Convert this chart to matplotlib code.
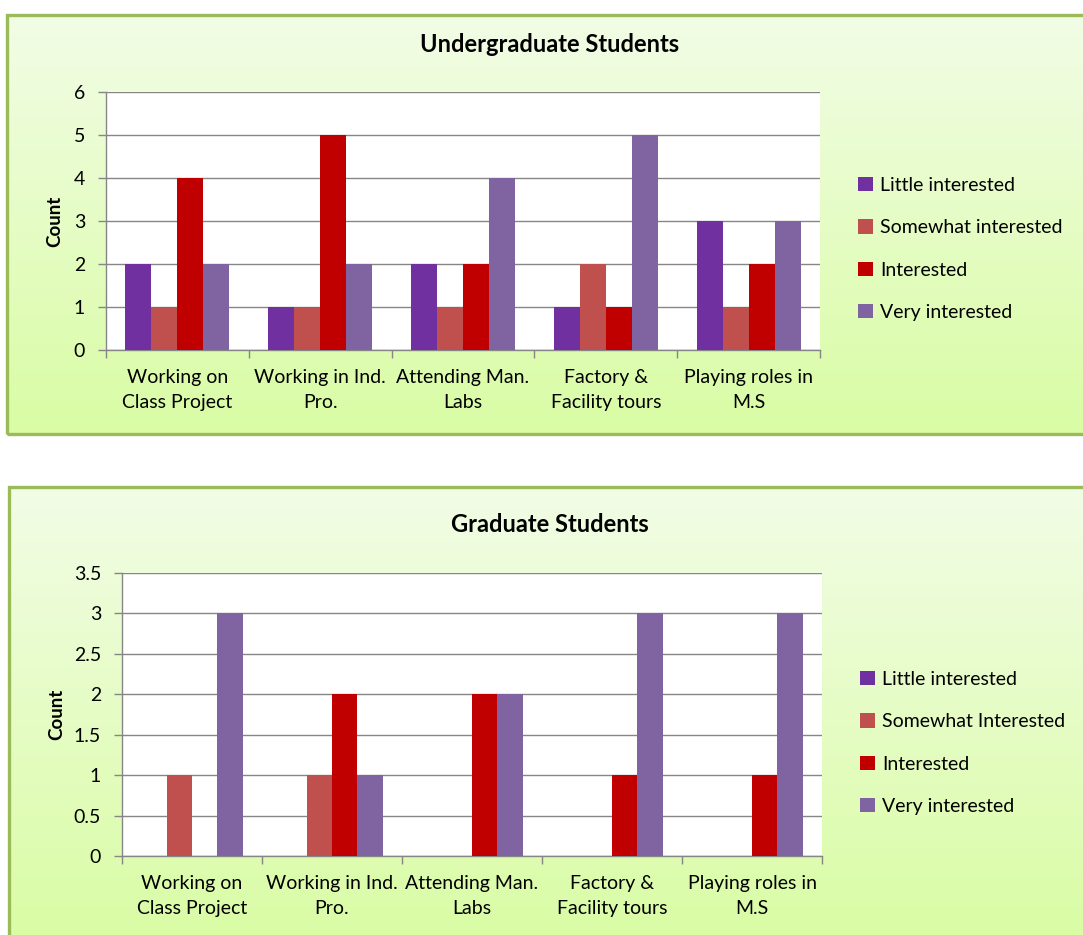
import numpy as np
import matplotlib
matplotlib.use("Agg")
import matplotlib.pyplot as plt
from matplotlib.patches import Rectangle, Patch

plt.rcParams['font.family'] = ['Lato', 'DejaVu Sans']

categories = ["Working on\nClass Project", "Working in Ind.\nPro.", "Attending Man.\nLabs",
              "Factory &\nFacility tours", "Playing roles in\nM.S"]
series_ug = ["Little interested", "Somewhat interested", "Interested", "Very interested"]
series_gr = ["Little interested", "Somewhat Interested", "Interested", "Very interested"]
colors = ["#7030A0", "#C0504D", "#C00000", "#8064A2"]

ug_little = [2, 1, 2, 1, 3]
ug_somewhat = [1, 1, 1, 2, 1]
ug_interested = [4, 5, 2, 1, 2]
ug_very = [2, 2, 4, 5, 3]

gr_little = [0, 0, 0, 0, 0]
gr_somewhat = [1, 1, 0, 0, 0]
gr_interested = [0, 2, 2, 1, 1]
gr_very = [3, 1, 2, 3, 3]

W, H = 1083, 935
fig = plt.figure(figsize=(W / 100, H / 100), dpi=100)
fig.patch.set_facecolor("white")

FS = 14


def fx(x):
    return x / W


def fy(y):
    return 1 - y / H


def panel(x0, y0, x1, y1):
    bg = fig.add_axes([fx(x0), fy(y1), fx(x1 - x0), (y1 - y0) / H], zorder=0)
    grad = np.linspace(0, 1, 256).reshape(-1, 1)
    top = np.array([0xF2, 0xFD, 0xE6]) / 255
    bot = np.array([0xD9, 0xFC, 0xA4]) / 255
    img = top[None, None, :] * (1 - grad[:, :, None]) + bot[None, None, :] * grad[:, :, None]
    bg.imshow(img, aspect="auto", extent=[0, 1, 0, 1], origin="upper")
    bg.set_axis_off()
    fig.patches.append(Rectangle((fx(x0), fy(y1)), fx(x1 - x0), (y1 - y0) / H,
                                 transform=fig.transFigure, fill=False,
                                 edgecolor="#9BBB59", linewidth=2.4, zorder=5))


def chart(box, values, labels, ymax, ystep, yfmt, title, title_y, ylab_x, leg_pos):
    x0, y0, x1, y1 = box
    ax = fig.add_axes([fx(x0), fy(y1), fx(x1 - x0), (y1 - y0) / H], zorder=2)
    ax.set_facecolor("white")
    x = np.arange(len(categories))
    bw = 0.182
    handles = []
    for i, (vals, lab, c) in enumerate(zip(values, labels, colors)):
        ax.bar(x + (i - 1.5) * bw, vals, width=bw, color=c, zorder=3)
        handles.append(Patch(facecolor=c, label=lab))
    ax.set_xlim(-0.5, len(categories) - 0.5)
    ax.set_ylim(0, ymax)
    yt = np.arange(0, ymax + 1e-9, ystep)
    ax.set_yticks(yt)
    ax.set_yticklabels([yfmt(v) for v in yt], fontsize=FS, color="black")
    ax.yaxis.grid(True, color="#868686", linewidth=1.0, zorder=0)
    ax.set_axisbelow(True)
    ax.set_xticks(x)
    ax.set_xticklabels(categories, fontsize=FS, linespacing=1.55)
    ax.set_xticks(np.arange(-0.5, len(categories), 1.0), minor=True)
    ax.tick_params(axis="x", which="major", length=0, pad=14)
    ax.tick_params(axis="x", which="minor", length=6, color="#868686", width=1)
    ax.tick_params(axis="y", length=6, color="#868686", width=1, pad=9)
    for s in ["top", "right"]:
        ax.spines[s].set_visible(False)
    for s in ["left", "bottom"]:
        ax.spines[s].set_color("#868686")
        ax.spines[s].set_linewidth(1)
    fig.text(fx(550), fy(title_y), title, ha="center", va="center",
             fontsize=17, fontweight="bold", zorder=6)
    fig.text(fx(ylab_x), fy((y0 + y1) / 2), "Count", rotation=90, ha="center", va="center",
             fontsize=13.5, fontweight="bold", zorder=6)
    fig.legend(handles=handles, loc="upper left", bbox_to_anchor=(fx(leg_pos[0]), fy(leg_pos[1])),
               frameon=False, fontsize=FS, handlelength=0.75, handleheight=0.75,
               handletextpad=0.4, labelspacing=1.3, borderaxespad=0, borderpad=0)
    return ax


panel(7, 15, 1090, 434)
panel(9, 487, 1090, 945)

chart((106, 92, 820, 350), [ug_little, ug_somewhat, ug_interested, ug_very], series_ug,
      6, 1, lambda v: f"{int(v)}", "Undergraduate Students", 44, 55, (858, 177))
chart((122, 573, 822, 856), [gr_little, gr_somewhat, gr_interested, gr_very], series_gr,
      3.5, 0.5, lambda v: f"{v:g}", "Graduate Students", 524, 57, (860, 671))

fig.savefig("out.png", dpi=100, facecolor="white")
